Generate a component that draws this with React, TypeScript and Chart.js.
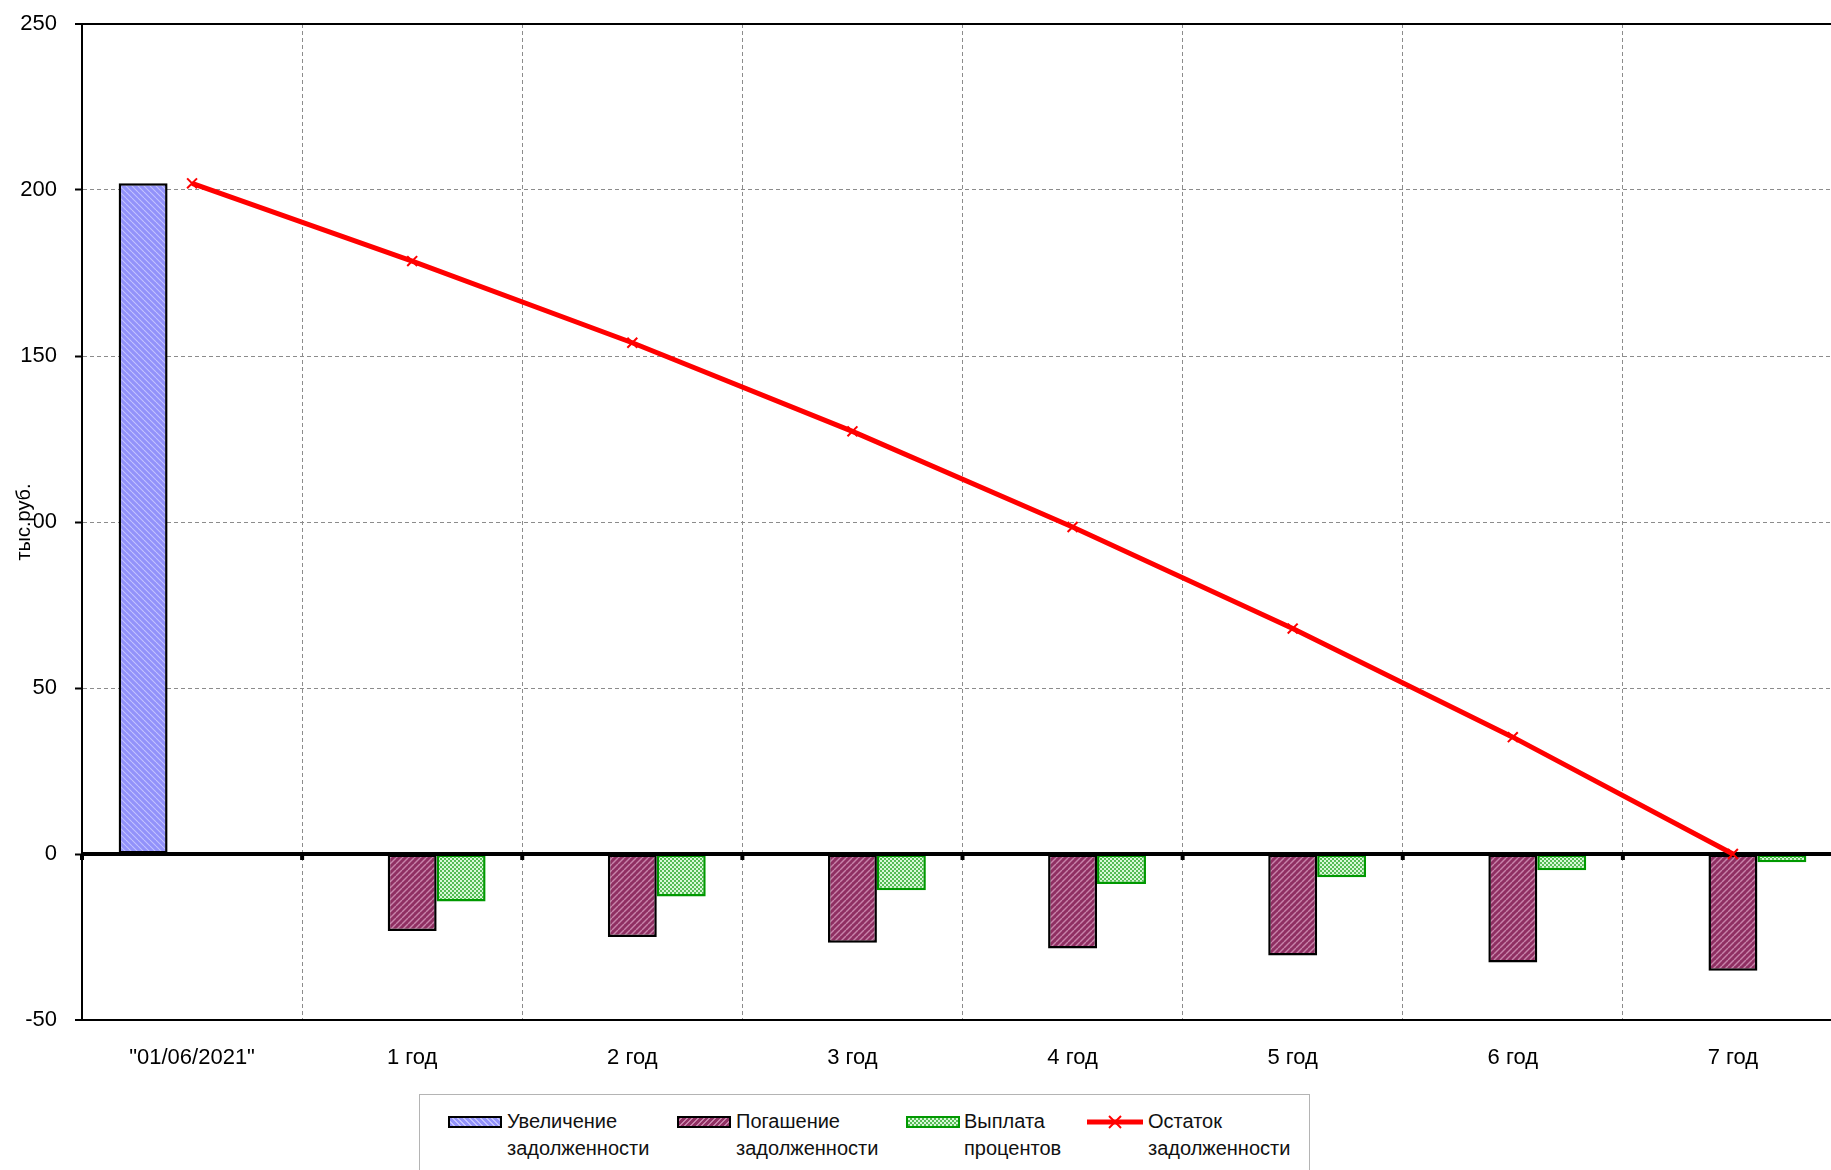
import React, { useEffect, useRef } from "react";
import { Chart, registerables } from "chart.js";

Chart.register(...registerables);

const categories = ['"01/06/2021"', "1 год", "2 год", "3 год", "4 год", "5 год", "6 год", "7 год"];
const debtIncrease: (number | null)[] = [202, null, null, null, null, null, null, null];
const debtRepayment: (number | null)[] = [null, -23.2, -25.0, -26.7, -28.5, -30.6, -32.7, -35.2];
const interestPaid: (number | null)[] = [null, -14.3, -12.8, -10.9, -9.0, -7.0, -4.9, -2.5];
const debtBalance: number[] = [202, 178.6, 154.0, 127.3, 98.5, 67.9, 35.2, 0];

const yMin = -50;
const yMax = 250;
const yStep = 50;
const yAxisTitle = "тыс.руб.";

const seriesNames = [
  "Увеличение задолженности",
  "Погашение задолженности",
  "Выплата процентов",
  "Остаток задолженности",
];
const legendLines = [
  ["Увеличение", "задолженности"],
  ["Погашение", "задолженности"],
  ["Выплата", "процентов"],
  ["Остаток", "задолженности"],
];

const FONT = "'Liberation Sans', Arial, sans-serif";

function makePattern(size: number, draw: (c: CanvasRenderingContext2D) => void) {
  const cv = document.createElement("canvas");
  cv.width = size;
  cv.height = size;
  const c = cv.getContext("2d")!;
  draw(c);
  return c.createPattern(cv, "repeat")!;
}

function bluePattern() {
  return makePattern(6, (c) => {
    c.fillStyle = "#9292fa";
    c.fillRect(0, 0, 6, 6);
    c.strokeStyle = "#c4c4ff";
    c.lineWidth = 1.1;
    for (const k of [-6, 0, 6]) {
      c.beginPath();
      c.moveTo(k, 0);
      c.lineTo(k + 6, 6);
      c.stroke();
    }
  });
}

function purplePattern() {
  return makePattern(6, (c) => {
    c.fillStyle = "#8f2f62";
    c.fillRect(0, 0, 6, 6);
    c.strokeStyle = "#c883aa";
    c.lineWidth = 1.4;
    for (const k of [-6, 0, 6]) {
      c.beginPath();
      c.moveTo(k, 6);
      c.lineTo(k + 6, 0);
      c.stroke();
    }
  });
}

function greenPattern() {
  return makePattern(4, (c) => {
    c.fillStyle = "#55bb55";
    c.fillRect(0, 0, 4, 4);
    c.fillStyle = "#d8f8d8";
    c.fillRect(0, 0, 2, 2);
    c.fillRect(2, 2, 2, 2);
  });
}

const isSolidY = (v: number | undefined) => v === 0 || v === yMax || v === yMin;

const overlayPlugin = {
  id: "overlay",
  beforeDatasetDraw(chart: any, args: any) {
    if (args.index !== 3) return;
    const { ctx, chartArea, scales } = chart;
    const y0 = scales.y.getPixelForValue(0);
    ctx.save();
    ctx.strokeStyle = "#000";
    ctx.lineWidth = 4;
    ctx.beginPath();
    ctx.moveTo(chartArea.left, y0);
    ctx.lineTo(chartArea.right, y0);
    ctx.stroke();
    const xs = scales.x;
    const n = categories.length;
    const half = (xs.getPixelForValue(1) - xs.getPixelForValue(0)) / 2;
    ctx.fillStyle = "#000";
    for (let i = 0; i <= n; i++) {
      const px = i < n ? xs.getPixelForValue(i) - half : xs.getPixelForValue(n - 1) + half;
      ctx.fillRect(px - 2, y0, 4, 6);
    }
    ctx.restore();
  },
  afterDraw(chart: any) {
    const { ctx, chartArea } = chart;
    const cy = (chartArea.top + chartArea.bottom) / 2;
    ctx.save();
    ctx.font = `20px ${FONT}`;
    const w = ctx.measureText(yAxisTitle).width;
    ctx.fillStyle = "#fff";
    ctx.fillRect(14, cy - w / 2 - 2, 20, w + 4);
    ctx.translate(24, cy);
    ctx.rotate(-Math.PI / 2);
    ctx.textAlign = "center";
    ctx.textBaseline = "middle";
    ctx.fillStyle = "#000";
    ctx.fillText(yAxisTitle, 0, 0);
    ctx.restore();
  },
};

function Swatch({ kind }: { kind: number }) {
  const base: React.CSSProperties = {
    position: "absolute",
    width: 54,
    height: 12,
    boxSizing: "border-box",
    top: 1116,
  };
  if (kind === 0)
    return (
      <div
        style={{
          ...base,
          left: 448,
          border: "2.5px solid #000",
          background: "repeating-linear-gradient(45deg, #9292fa 0 2.5px, #c4c4ff 2.5px 4px)",
        }}
      />
    );
  if (kind === 1)
    return (
      <div
        style={{
          ...base,
          left: 677,
          border: "2.5px solid #000",
          background: "repeating-linear-gradient(-45deg, #8f2f62 0 2.5px, #c883aa 2.5px 4px)",
        }}
      />
    );
  if (kind === 2)
    return (
      <div
        style={{
          ...base,
          left: 906,
          border: "2.5px solid #009900",
          background: "repeating-conic-gradient(#55bb55 0 25%, #d8f8d8 0 50%) 0 0 / 4px 4px",
        }}
      />
    );
  return (
    <svg style={{ position: "absolute", left: 1087, top: 1114, overflow: "visible" }} width={56} height={16}>
      <line x1={0} y1={8} x2={56} y2={8} stroke="#ff0000" strokeWidth={5} />
      <line x1={22} y1={2} x2={34} y2={14} stroke="#ff0000" strokeWidth={2} />
      <line x1={34} y1={2} x2={22} y2={14} stroke="#ff0000" strokeWidth={2} />
    </svg>
  );
}

const legendTextLeft = [507, 736, 964, 1148];

export default function App() {
  const ref = useRef<HTMLCanvasElement>(null);

  useEffect(() => {
    const canvas = ref.current!;
    const barCommon = {
      type: "bar",
      borderWidth: 2.5,
      borderSkipped: false,
      barPercentage: 1,
      categoryPercentage: 0.667,
    };
    const chart = new Chart(canvas, {
      type: "bar",
      data: {
        labels: categories,
        datasets: [
          {
            ...barCommon,
            label: seriesNames[0],
            data: debtIncrease,
            backgroundColor: bluePattern(),
            borderColor: "#000",
          },
          {
            ...barCommon,
            label: seriesNames[1],
            data: debtRepayment,
            backgroundColor: purplePattern(),
            borderColor: "#000",
          },
          {
            ...barCommon,
            label: seriesNames[2],
            data: interestPaid,
            backgroundColor: greenPattern(),
            borderColor: "#009900",
          },
          {
            type: "line",
            label: seriesNames[3],
            data: debtBalance,
            borderColor: "#ff0000",
            borderWidth: 5,
            pointStyle: "crossRot",
            pointRadius: 7,
            pointBorderWidth: 2,
            pointBorderColor: "#ff0000",
            pointBackgroundColor: "#ff0000",
            tension: 0,
            order: -1,
          },
        ] as any,
      },
      options: {
        animation: false,
        responsive: false,
        layout: { padding: { top: 24, left: 0, right: 4, bottom: 0 } },
        plugins: {
          legend: { display: false },
          tooltip: { enabled: false },
        },
        scales: {
          x: {
            grid: { offset: true, color: "#8c8c8c", lineWidth: 1, drawTicks: false },
            border: {
              display: true,
              color: "#000",
              width: 2,
              dash: (c: any) => (c.tick ? [4, 3] : []),
            } as any,
            ticks: {
              color: "#000",
              font: { size: 22, family: FONT },
              padding: 25,
              maxRotation: 0,
              autoSkip: false,
            },
            afterFit: (s: any) => {
              s.height = 65;
              s.paddingLeft = 0;
              s.paddingRight = 0;
            },
          },
          y: {
            min: yMin,
            max: yMax,
            ticks: {
              stepSize: yStep,
              color: "#000",
              font: { size: 22, family: FONT },
              padding: 18,
            },
            grid: {
              color: (c: any) => (c.tick && isSolidY(c.tick.value) ? "#000" : "#8c8c8c"),
              lineWidth: (c: any) => (c.tick && (c.tick.value === yMax || c.tick.value === yMin) ? 2 : 1),
              tickLength: 7,
              tickColor: "#000",
              tickWidth: 2,
              tickBorderDash: [],
            } as any,
            border: {
              display: true,
              color: "#000",
              width: 2,
              dash: (c: any) => (c.tick && !isSolidY(c.tick.value) ? [4, 3] : []),
            } as any,
            afterFit: (s: any) => {
              s.width = 82;
              s.paddingTop = 12;
              s.paddingBottom = 12;
            },
          },
        },
      },
      plugins: [overlayPlugin],
    });
    return () => chart.destroy();
  }, []);

  return (
    <div
      style={{
        position: "fixed",
        left: 0,
        top: 0,
        width: 1831,
        height: 1170,
        overflow: "hidden",
        background: "#fff",
        fontFamily: FONT,
      }}
    >
      <canvas ref={ref} width={1852} height={1085} style={{ display: "block" }} />
      <div
        style={{
          position: "absolute",
          left: 419,
          top: 1094,
          width: 891,
          height: 120,
          boxSizing: "border-box",
          border: "1.5px solid #b4b4b4",
        }}
      />
      {legendLines.map((lines, i) => (
        <React.Fragment key={i}>
          <Swatch kind={i} />
          <div
            style={{
              position: "absolute",
              left: legendTextLeft[i],
              top: 1108,
              fontSize: 20,
              lineHeight: "27px",
              color: "#111",
              whiteSpace: "nowrap",
            }}
          >
            {lines[0]}
            <br />
            {lines[1]}
          </div>
        </React.Fragment>
      ))}
    </div>
  );
}
